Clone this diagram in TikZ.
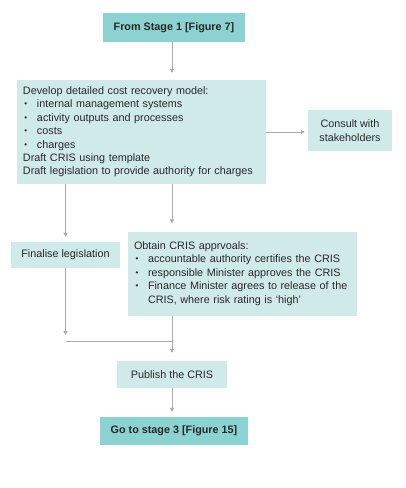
\documentclass[tikz,border=0pt]{standalone}
\usepackage{fontspec}
\setmainfont{Liberation Sans}
\usetikzlibrary{arrows.meta}
\definecolor{darkteal}{RGB}{139,210,208}
\definecolor{lightteal}{RGB}{208,234,234}
\definecolor{linegray}{RGB}{170,170,170}
\definecolor{txt}{RGB}{40,40,40}
\newcommand\mybul{\makebox[14pt][l]{\hspace*{1.5pt}\raisebox{1pt}{\fontsize{8}{8}\selectfont\textbullet}}}
\newcommand\myind{\hspace*{14pt}}
\begin{document}
\begin{tikzpicture}[x=1pt,y=-1pt,
  box/.style={fill=lightteal, draw=none, inner xsep=6pt, inner ysep=0pt, text=txt,
    font=\fontsize{10.8}{13.4}\selectfont},
  headbox/.style={box, fill=darkteal, font=\fontsize{10.8}{13.4}\selectfont\bfseries},
  arr/.style={draw=linegray, line width=0.9pt, -{Triangle[length=4pt,width=4pt]}},
  ln/.style={draw=linegray, line width=0.9pt}]
\useasboundingbox (0,0) rectangle (405,488);
\coordinate (cx) at (172,0);
\node[headbox, minimum width=142pt, minimum height=29pt] (top) at (174,27.5) {From Stage 1 [Figure 7]};
\node[box, text width=237pt, minimum height=104pt, align=left] (main) at (141.5,132)
  {Develop detailed cost recovery model:\\
   \mybul internal management systems\\
   \mybul activity outputs and processes\\
   \mybul costs\\
   \mybul charges\\
   Draft CRIS using template\\
   Draft legislation to provide authority for charges};
\node[box, align=center, minimum width=84pt, minimum height=41pt] (cons) at (350,130.5) {Consult with\\stakeholders};
\node[box, minimum width=109pt, minimum height=26pt] (fin) at (65.5,255) {Finalise legislation};
\node[box, text width=217pt, minimum height=84pt, align=left] (obt) at (242.5,273.5)
  {Obtain CRIS apprvoals:\\
   \mybul accountable authority certifies the CRIS\\
   \mybul responsible Minister approves the CRIS\\
   \mybul\mbox{Finance Minister agrees to release of the}\\
   \myind CRIS, where risk rating is ‘high’};
\node[box, minimum width=110pt, minimum height=27pt] (pub) at (172,374.5) {Publish the CRIS};
\node[headbox, minimum width=148pt, minimum height=28pt] (go) at (174,431) {Go to stage 3 [Figure 15]};
\coordinate (j1) at (65.5,335);
\coordinate (j2) at (65.5,341);
\draw[arr, shorten >=7pt] (top.south -| cx) -- (main.north -| cx);
\draw[arr, shorten >=3pt] (main.east) -- (main.east -| cons.west);
\draw[arr, shorten >=5pt] (main.south -| fin.north) -- (fin.north);
\draw[arr, shorten >=8pt] (main.south -| cx) -- (obt.north -| cx);
\draw[arr] (fin.south) -- (j1);
\draw[ln] (j2) -- (j2 -| cx);
\draw[arr, shorten >=8pt] (obt.south -| cx) -- (pub.north);
\draw[arr, shorten >=5pt] (pub.south) -- (go.north -| pub.south);
\end{tikzpicture}
\end{document}
